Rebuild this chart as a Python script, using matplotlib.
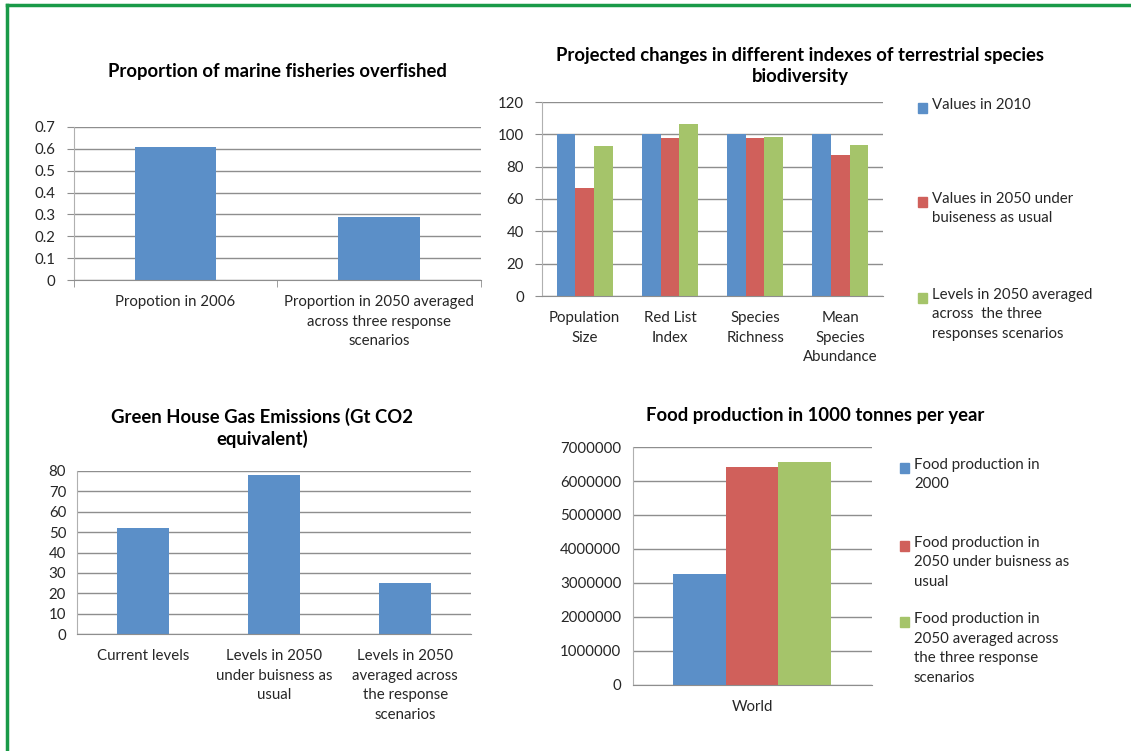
import matplotlib
matplotlib.use("Agg")
import matplotlib.pyplot as plt
from matplotlib.patches import Rectangle
import numpy as np

# ---- data ----
fish_labels = ["Propotion in 2006",
               "Proportion in 2050 averaged\nacross three response\nscenarios"]
fish_values = [0.607, 0.288]

bio_categories = ["Population\nSize", "Red List\nIndex", "Species\nRichness",
                  "Mean\nSpecies\nAbundance"]
bio_2010 = [100, 100, 100, 100]
bio_2050_bau = [67, 98, 97.5, 87.5]
bio_2050_resp = [92.5, 106.5, 98.5, 93.5]
bio_series = ["Values in 2010", "Values in 2050 under\nbuiseness as usual",
              "Levels in 2050 averaged\nacross  the three\nresponses scenarios"]

ghg_labels = ["Current levels", "Levels in 2050\nunder buisness as\nusual",
              "Levels in 2050\naveraged across\nthe response\nscenarios"]
ghg_values = [52, 78, 25]

food_category = ["World"]
food_2000 = [3260000]
food_2050_bau = [6400000]
food_2050_resp = [6550000]
food_series = ["Food production in\n2000", "Food production in\n2050 under buisness as\nusual",
               "Food production in\n2050 averaged across\nthe three response\nscenarios"]

BLUE = "#5b8fc8"
RED = "#d0605b"
GREEN = "#a5c46a"
GRID = "#8e8e8e"
TXT = "#262626"
FS = 10.8
LS = 1.5

plt.rcParams['font.family'] = ['Lato', 'DejaVu Sans']
plt.rcParams['font.size'] = FS

W, H = 1131, 751
fig = plt.figure(figsize=(W / 100, H / 100), dpi=100)


def box(l, t, r, b):
    return [l / W, 1 - b / H, (r - l) / W, (b - t) / H]


def style(ax, ymax, step, labels=None):
    ax.set_ylim(0, ymax)
    ticks = np.arange(0, ymax + step / 2, step)
    ax.set_yticks(ticks)
    if labels is not None:
        ax.set_yticklabels(labels)
    ax.yaxis.grid(True, color=GRID, linewidth=1)
    ax.set_axisbelow(True)
    for s in ["top", "right"]:
        ax.spines[s].set_visible(False)
    ax.spines["left"].set_color("#b0b0b0")
    ax.spines["bottom"].set_color(GRID)
    ax.tick_params(axis="y", length=5, color=GRID, pad=8, labelsize=FS, labelcolor=TXT)
    ax.tick_params(axis="x", length=0, pad=11, labelsize=FS, labelcolor=TXT)
    for t in ax.get_xticklabels():
        t.set_linespacing(LS)


def legend(x, ys, names, colors):
    for y, n, c in zip(ys, names, colors):
        fig.add_artist(Rectangle((x / W, 1 - (y + 5) / H), 9 / W, 10 / H,
                                 transform=fig.transFigure, color=c))
        fig.text((x + 14) / W, 1 - (y - 10) / H, n, va="top", ha="left",
                 fontsize=FS, color=TXT, linespacing=LS)


def title(x, y, s):
    fig.text(x / W, 1 - y / H, s, ha="center", va="center", fontsize=13.3,
             fontweight="bold", color="black", linespacing=1.3)


# ---- chart 1 ----
ax1 = fig.add_axes(box(73.7, 127, 480.7, 280))
x1 = np.arange(len(fish_values))
ax1.bar(x1, fish_values, width=0.4, color=BLUE)
ax1.set_xlim(-0.5, len(fish_values) - 0.5)
ax1.set_xticks(x1)
ax1.set_xticklabels(fish_labels)
style(ax1, 0.7, 0.1, ["0", "0.1", "0.2", "0.3", "0.4", "0.5", "0.6", "0.7"])
ax1.set_xticks([-0.5, 0.5, 1.5], minor=True)
ax1.tick_params(axis="x", which="minor", length=5, color=GRID)
title(277, 71, "Proportion of marine fisheries overfished")

# ---- chart 2 ----
ax2 = fig.add_axes(box(542, 102, 883, 296))
x2 = np.arange(len(bio_categories))
bw = 0.218
ax2.bar(x2 - bw, bio_2010, width=bw, color=BLUE)
ax2.bar(x2, bio_2050_bau, width=bw, color=RED)
ax2.bar(x2 + bw, bio_2050_resp, width=bw, color=GREEN)
ax2.set_xlim(-0.5, len(bio_categories) - 0.5)
ax2.set_xticks(x2)
ax2.set_xticklabels(bio_categories)
style(ax2, 120, 20)
title(800, 66, "Projected changes in different indexes of terrestrial species\nbiodiversity")
legend(918, [108, 202, 298], bio_series, [BLUE, RED, GREEN])

# ---- chart 3 ----
ax3 = fig.add_axes(box(77.3, 471, 470.7, 634))
x3 = np.arange(len(ghg_values))
ax3.bar(x3, ghg_values, width=0.4, color=BLUE)
ax3.set_xlim(-0.5, len(ghg_values) - 0.5)
ax3.set_xticks(x3)
ax3.set_xticklabels(ghg_labels)
style(ax3, 80, 10)
ax3.tick_params(axis="y", length=0)
title(262, 428, "Green House Gas Emissions (Gt CO2\nequivalent)")

# ---- chart 4 ----
ax4 = fig.add_axes(box(632.5, 447, 871.6, 685))
x4 = np.arange(len(food_category))
bw4 = 0.22
ax4.bar(x4 - bw4, food_2000, width=bw4, color=BLUE)
ax4.bar(x4, food_2050_bau, width=bw4, color=RED)
ax4.bar(x4 + bw4, food_2050_resp, width=bw4, color=GREEN)
ax4.set_xlim(-0.5, 0.5)
ax4.set_xticks(x4)
ax4.set_xticklabels(food_category)
style(ax4, 7000000, 1000000, [str(v) for v in range(0, 7000001, 1000000)])
ax4.tick_params(axis="y", length=0)
title(815, 416, "Food production in 1000 tonnes per year")
legend(900, [468, 546, 622], food_series, [BLUE, RED, GREEN])

# green frame
fig.add_artist(plt.Line2D([7 / W, 1], [1 - 5 / H, 1 - 5 / H], transform=fig.transFigure,
                          color="#1a9a48", linewidth=2.5))
fig.add_artist(plt.Line2D([7 / W, 7 / W], [0, 1 - 5 / H], transform=fig.transFigure,
                          color="#1a9a48", linewidth=2.5))

fig.savefig("out.png", dpi=100)
